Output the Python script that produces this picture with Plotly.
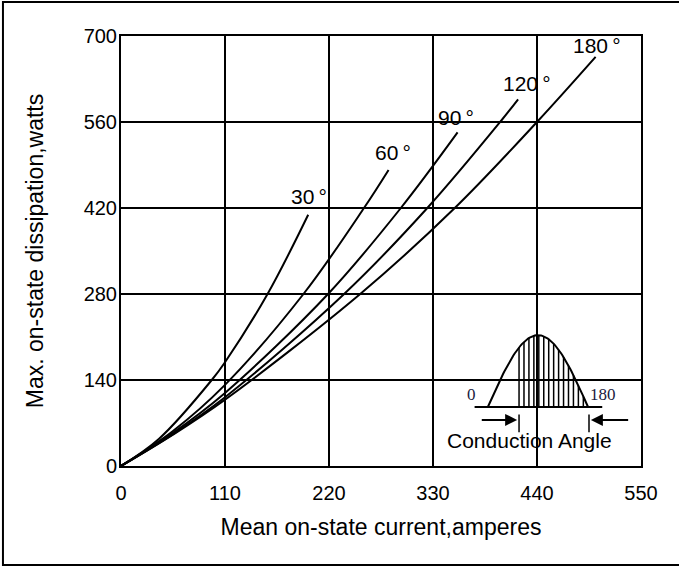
import numpy as np
import plotly.graph_objects as go

# Mean on-state current (A) vs. max on-state dissipation (W) per conduction angle
current_30 = [0, 40, 96, 110, 155, 198]
power_30 = [0, 44, 140, 169, 280, 409]

current_60 = [0, 55, 110, 193, 257, 283]
power_60 = [0, 57, 132, 280, 420, 482]

current_90 = [0, 55, 110, 219, 296, 356]
power_90 = [0, 54, 119, 280, 420, 543]

current_120 = [0, 55, 110, 236, 324, 401, 420]
power_120 = [0, 52, 112, 280, 420, 560, 597]

current_180 = [0, 55, 110, 253, 353, 440, 502]
power_180 = [0, 51, 108, 280, 420, 560, 666]

angle_labels = ["30°", "60°", "90°", "120°", "180°"]
label_x = [199, 288, 354, 429, 503]
label_y = [439, 511, 568, 622, 684]

x_ticks = [0, 110, 220, 330, 440, 550]
y_ticks = [0, 140, 280, 420, 560, 700]

FONT = "Liberation Sans, Arial, sans-serif"
SERIF = "Liberation Serif, Times New Roman, serif"

fig = go.Figure()
for cx, cy in [(current_30, power_30), (current_60, power_60), (current_90, power_90),
               (current_120, power_120), (current_180, power_180)]:
    fig.add_trace(go.Scatter(x=cx, y=cy, mode="lines",
                             line=dict(color="black", width=2, shape="spline", smoothing=1.0),
                             hoverinfo="skip", showlegend=False))

for t, lx, ly in zip(angle_labels, label_x, label_y):
    fig.add_annotation(x=lx, y=ly, text=t.replace("°", "\u2009°"), showarrow=False,
                       font=dict(family=FONT, size=21, color="black"))

# Inset sketch: half-wave with shaded conduction window
base_y = 96
x0, x1 = 388, 494
amp = 117
xs = np.linspace(x0, x1, 80)
ys = base_y + amp * np.sin(np.pi * (xs - x0) / (x1 - x0))
fig.add_trace(go.Scatter(x=xs, y=ys, mode="lines", line=dict(color="black", width=2),
                         hoverinfo="skip", showlegend=False))
fig.add_shape(type="line", x0=374, x1=509, y0=base_y, y1=base_y,
              line=dict(color="black", width=2))
fire = 421
for hx in np.linspace(fire, 489, 14):
    hy = base_y + amp * np.sin(np.pi * (hx - x0) / (x1 - x0))
    fig.add_shape(type="line", x0=hx, x1=hx, y0=base_y, y1=hy,
                  line=dict(color="black", width=1.5))
for tx in [fire, 495]:
    fig.add_shape(type="line", x0=tx, x1=tx, y0=55, y1=84,
                  line=dict(color="black", width=1.5))
fig.add_annotation(x=419, y=75, ax=380, ay=75, xref="x", yref="y", axref="x", ayref="y",
                   text="", showarrow=True, arrowhead=2, arrowsize=1.2, arrowwidth=2,
                   arrowcolor="black")
fig.add_annotation(x=497, y=75, ax=538, ay=75, xref="x", yref="y", axref="x", ayref="y",
                   text="", showarrow=True, arrowhead=2, arrowsize=1.2, arrowwidth=2,
                   arrowcolor="black")
fig.add_annotation(x=371, y=117, text="0", showarrow=False,
                   font=dict(family=SERIF, size=17, color="#1a1a40"))
fig.add_annotation(x=510, y=117, text="180", showarrow=False,
                   font=dict(family=SERIF, size=17, color="#1a1a40"))
fig.add_annotation(x=432, y=41, text="Conduction Angle", showarrow=False,
                   font=dict(family=FONT, size=21, color="black"))

# Outer frame around the whole figure
fig.add_shape(type="rect", xref="paper", yref="paper",
              x0=-0.227, x1=1.12, y0=-0.230, y1=1.079,
              line=dict(color="black", width=2), layer="below")

axis_common = dict(showgrid=True, gridcolor="black", gridwidth=2,
                   showline=True, linecolor="black", linewidth=2, mirror=True,
                   zeroline=False, ticks="", tickfont=dict(family=FONT, size=20, color="black"),
                   fixedrange=True)
fig.update_xaxes(range=[0, 550], tickvals=x_ticks, ticktext=[str(v) for v in x_ticks],
                 ticklabelstandoff=8,
                 title=dict(text="Mean on-state current,amperes",
                            font=dict(family=FONT, size=23, color="black"), standoff=16),
                 **axis_common)
fig.update_yaxes(range=[0, 700], tickvals=y_ticks, ticktext=[str(v) for v in y_ticks],
                 ticklabelstandoff=-2,
                 title=dict(text="Max. on-state dissipation,watts",
                            font=dict(family=FONT, size=23, color="black"), standoff=34),
                 **axis_common)

fig.update_layout(width=679, height=567, margin=dict(l=121, r=38, t=36, b=101),
                  plot_bgcolor="white", paper_bgcolor="white")

fig.write_html("out.html")
